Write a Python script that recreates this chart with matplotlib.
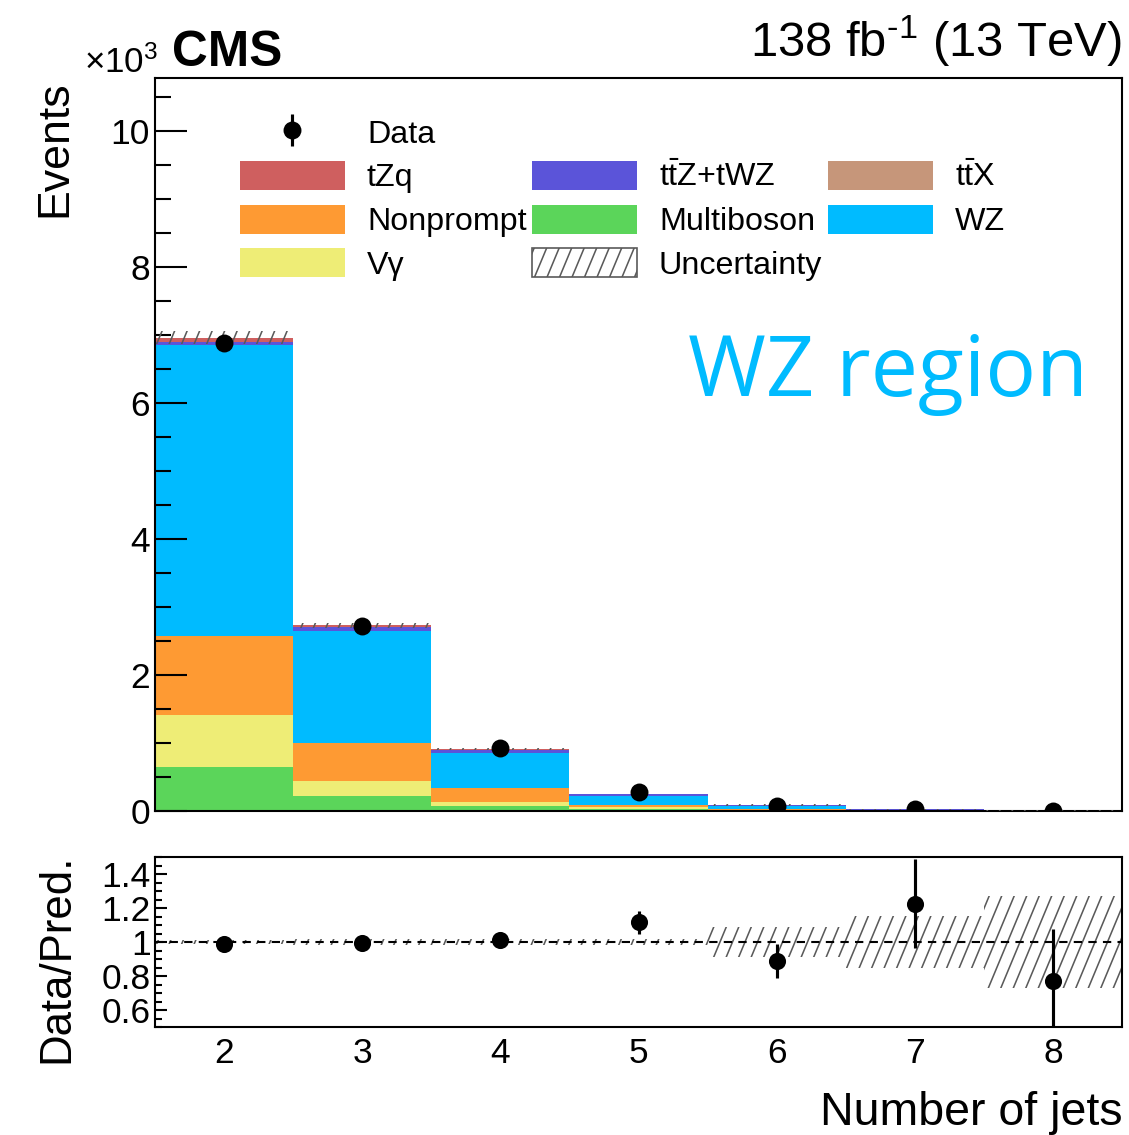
import numpy as np
import matplotlib
matplotlib.use("Agg")
import matplotlib.pyplot as plt
import matplotlib.hatch as mhatch
from matplotlib.path import Path
from matplotlib.patches import Rectangle
from matplotlib.ticker import MultipleLocator, FixedLocator, FuncFormatter, NullLocator

# ---------------- data ----------------
njets = [2, 3, 4, 5, 6, 7, 8]
multiboson = [650, 225, 80, 35, 10, 3, 1]
vgamma = [760, 215, 57, 20, 5, 1, 0.5]
nonprompt = [1160, 560, 200, 30, 10, 3, 1]
wz = [4280, 1640, 510, 135, 48, 13, 4.5]
ttx = [10, 10, 10, 5, 3, 1, 0.5]
ttz_twz = [40, 60, 45, 22, 11, 4, 1.5]
tzq = [63, 20, 8, 3, 1, 0.3, 0.1]
data = [6890, 2715, 920, 279, 78, 31, 7]
data_err_up = [83, 52, 30, 16.7, 8.8, 6.6, 2.8]
data_err_dn = [83, 52, 30, 16.7, 8.8, 6.6, 2.6]
syst_rel = [0.014, 0.015, 0.015, 0.02, 0.09, 0.155, 0.27]

# stacking order, bottom to top
stack = [
    ("Multiboson", multiboson, "#5bd55a"),
    ("V\u03b3", vgamma, "#eeed76"),
    ("Nonprompt", nonprompt, "#fe9a33"),
    ("WZ", wz, "#00bbff"),
    (r"$\mathrm{t\bar{t}X}$", ttx, "#c6967a"),
    (r"$\mathrm{t\bar{t}Z{+}tWZ}$", ttz_twz, "#5b54d9"),
    ("tZq", tzq, "#cf5f5f"),
]


# steeper forward-slash hatch, in the style of ROOT fill style 3354
class SteepNorthEastHatch(mhatch.HatchPatternBase):
    def __init__(self, hatch, density):
        self.num_lines = int((hatch.count('/') + hatch.count('x') + hatch.count('X')) * density)
        if self.num_lines:
            self.num_vertices = (2 * self.num_lines + 1) * 2
        else:
            self.num_vertices = 0

    def set_vertices_and_codes(self, vertices, codes):
        n = self.num_lines
        shift = round(n * 5 / 12) / n
        starts = np.arange(-n, n + 1) / n
        vertices[0::2, 0] = starts
        vertices[0::2, 1] = 0.0
        vertices[1::2, 0] = starts + shift
        vertices[1::2, 1] = 1.0
        codes[0::2] = Path.MOVETO
        codes[1::2] = Path.LINETO


mhatch._hatch_types = [SteepNorthEastHatch if t is mhatch.NorthEastHatch else t
                       for t in mhatch._hatch_types]

plt.rcParams["font.family"] = ["Liberation Sans", "DejaVu Sans"]
plt.rcParams["mathtext.fontset"] = "custom"
plt.rcParams["mathtext.rm"] = "Liberation Sans"
plt.rcParams["mathtext.it"] = "Liberation Sans:italic"
plt.rcParams["mathtext.bf"] = "Liberation Sans:bold"
plt.rcParams["hatch.linewidth"] = 0.75

W, H = 1129, 1135
DPI = 150
fig = plt.figure(figsize=(W / DPI, H / DPI), dpi=DPI)

ax = fig.add_axes([155 / W, 1 - 811 / H, 967 / W, (811 - 78) / H])
rax = fig.add_axes([155 / W, 1 - 1027 / H, 967 / W, (1027 - 857) / H])

edges = np.arange(1.5, 9.5, 1.0)
x = np.array(njets, dtype=float)

# ---------------- main panel ----------------
bottom = np.zeros(len(njets))
handles = {}
for name, vals, col in stack:
    vals = np.asarray(vals, dtype=float)
    ax.stairs(bottom + vals, edges, baseline=bottom.copy(), fill=True,
              facecolor=col, edgecolor="none", linewidth=0)
    handles[name] = Rectangle((0, 0), 1, 1, facecolor=col, edgecolor="none", label=name)
    bottom = bottom + vals
total = bottom
unc = total * np.asarray(syst_rel)

ax.stairs(total + unc, edges, baseline=total - unc, fill=True, facecolor="none",
          edgecolor="#5a5a5a", linewidth=0, hatch="//", zorder=3)

derr = [np.asarray(data_err_dn), np.asarray(data_err_up)]
dh = ax.errorbar(x, data, yerr=derr, fmt="o", color="black", ms=7.6,
                 elinewidth=1.5, capsize=0, zorder=5, label="Data")

ax.set_xlim(1.5, 8.5)
ax.set_ylim(0, 10780)
ax.yaxis.set_major_locator(MultipleLocator(2000))
ax.yaxis.set_minor_locator(MultipleLocator(500))
ax.yaxis.set_major_formatter(FuncFormatter(lambda v, p: f"{v / 1000:g}"))
ax.xaxis.set_major_locator(NullLocator())
ax.tick_params(axis="y", which="major", direction="in", length=15.5, width=1.0,
               labelsize=17, pad=2.5)
ax.tick_params(axis="y", which="minor", direction="in", length=7.7, width=1.0)
ax.tick_params(axis="x", labelbottom=False, length=0)
for s in ax.spines.values():
    s.set_linewidth(1.0)

# legend laid out as three columns
blank = Rectangle((0, 0), 1, 1, facecolor="none", edgecolor="none", label=" ")
unc_handle = Rectangle((0, 0), 1, 1, facecolor="white", edgecolor="#5a5a5a",
                       linewidth=0.8, hatch="//", label="Uncertainty")
leg_handles = [dh, handles["tZq"], handles["Nonprompt"], handles["V\u03b3"],
               blank, handles[r"$\mathrm{t\bar{t}Z{+}tWZ}$"], handles["Multiboson"], unc_handle,
               blank, handles[r"$\mathrm{t\bar{t}X}$"], handles["WZ"], blank]
leg_labels = ["Data", "tZq", "Nonprompt", "V\u03b3",
              " ", r"$\mathrm{t\bar{t}Z{+}tWZ}$", "Multiboson", "Uncertainty",
              " ", r"$\mathrm{t\bar{t}X}$", "WZ", " "]
ax.legend(leg_handles, leg_labels, ncol=3, loc="upper left",
          bbox_to_anchor=(240 / W, 1 - 117 / H), bbox_transform=fig.transFigure,
          frameon=False, fontsize=15.5, borderpad=0, borderaxespad=0,
          handlelength=3.25, handleheight=1.0, handletextpad=0.68,
          labelspacing=0.35, columnspacing=0.17)

ax.text(688 / W, 1 - 396 / H, "WZ region", transform=fig.transFigure,
        fontfamily="Open Sans", fontsize=40.5, color="#00bbff",
        ha="left", va="baseline")

# ---------------- ratio panel ----------------
ratio = np.asarray(data) / total
rerr = [derr[0] / total, derr[1] / total]
rel = np.asarray(syst_rel)
rax.stairs(1 + rel, edges, baseline=1 - rel, fill=True, facecolor="none",
           edgecolor="#5a5a5a", linewidth=0, hatch="//", zorder=2)
rax.axhline(1.0, color="black", linestyle=(0, (4, 3)), linewidth=1.0, zorder=3)
rax.errorbar(x, ratio, yerr=rerr, fmt="o", color="black", ms=7.2,
             elinewidth=1.5, capsize=0, zorder=5)

rax.set_xlim(1.5, 8.5)
rax.set_ylim(0.5, 1.5)
rax.xaxis.set_major_locator(FixedLocator(njets))
rax.xaxis.set_major_formatter(FuncFormatter(lambda v, p: f"{v:g}"))
rax.yaxis.set_major_locator(FixedLocator([0.6, 0.8, 1.0, 1.2, 1.4]))
rax.yaxis.set_major_formatter(FuncFormatter(lambda v, p: f"{v:g}"))
rax.yaxis.set_minor_locator(MultipleLocator(0.05))
rax.tick_params(axis="y", which="major", direction="in", length=5.8, width=1.0,
                labelsize=17, pad=2)
rax.tick_params(axis="y", which="minor", direction="in", length=3.3, width=1.0)
rax.tick_params(axis="x", which="both", length=0, labelsize=17, pad=5)
for s in rax.spines.values():
    s.set_linewidth(1.0)

# ---------------- labels ----------------
fig.text(55 / W, 1 - 80 / H, "Events", rotation=90, ha="center", va="top", fontsize=21.5)
fig.text(57 / W, 1 - 854 / H, "Data/Pred.", rotation=90, ha="center", va="top", fontsize=21)
fig.text(1122 / W, 1 - 1125 / H, "Number of jets", ha="right", va="baseline", fontsize=22.3)
fig.text(172 / W, 1 - 66 / H, "CMS", fontweight="bold", ha="left", va="baseline", fontsize=23.8)
fig.text(84 / W, 1 - 73 / H, "\u00d710$^{\\mathregular{3}}$", ha="left", va="baseline", fontsize=16.8)
fig.text(1122 / W, 1 - 57 / H, r"138 fb$^{\text{-1}}$ (13 TeV)", ha="right",
         va="baseline", fontsize=23.5)

fig.savefig("out.png", dpi=DPI)
